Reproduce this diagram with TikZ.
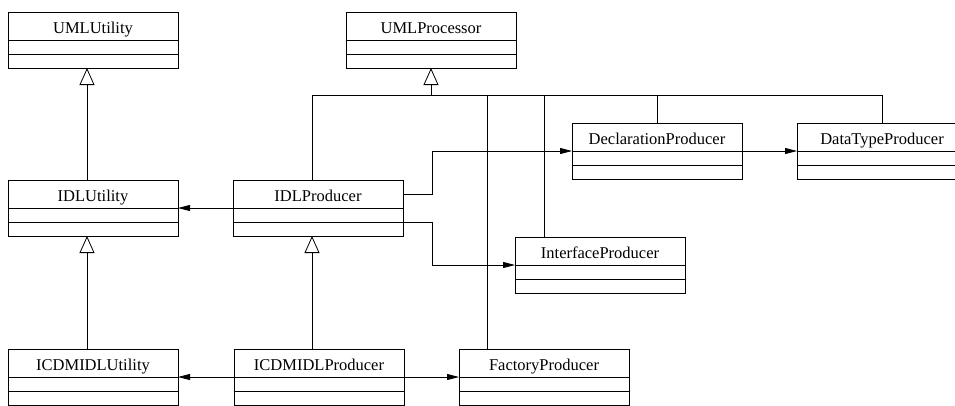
\documentclass[tikz,border=0pt]{standalone}
\usepackage{fontspec}
\setmainfont{Liberation Serif}
\usetikzlibrary{positioning,arrows.meta}

\tikzset{
  classtitle/.style={draw, line width=.8pt, outer sep=0pt, minimum width=170pt, minimum height=28pt,
    inner ysep=0pt, text height=15pt, text depth=0pt, font=\fontsize{16.5}{18}\selectfont},
  classpart/.style={draw, line width=.8pt, outer sep=0pt, minimum width=170pt, minimum height=14pt, inner sep=0pt},
  inherit/.style={line width=.8pt, -{Triangle[open, length=17pt, width=15pt]}},
  assoc/.style={line width=.8pt, -{Triangle[length=12pt, width=6pt]}},
  link/.style={line width=.8pt}
}

\begin{document}
\begin{tikzpicture}[x=1pt, y=-1pt]
\def\umlclass#1#2#3{%
  \node[classtitle, anchor=north west] (#1) at #2 {#3};
  \node[classpart, below=0pt of #1] (#1-att) {};
  \node[classpart, below=0pt of #1-att] (#1-op) {};
}

\useasboundingbox (0,0) rectangle (955,405);
\clip (0,0) rectangle (955,405);

% classes
\umlclass{umlutil}{(8,12)}{UMLUtility}
\umlclass{umlproc}{(346,12)}{UMLProcessor}
\umlclass{idlutil}{(8,180)}{IDLUtility}
\umlclass{idlprod}{(233,180)}{IDLProducer}
\umlclass{declprod}{(572,123)}{DeclarationProducer}
\umlclass{typeprod}{(797,123)}{DataTypeProducer}
\umlclass{ifaceprod}{(515,237)}{InterfaceProducer}
\umlclass{icdmutil}{(8,349)}{ICDMIDLUtility}
\umlclass{icdmprod}{(234,349)}{ICDMIDLProducer}
\umlclass{factprod}{(459,349)}{FactoryProducer}

% generalisation
\draw[inherit] ([xshift=-6pt]idlutil.north) -- ([xshift=-6pt]umlutil-op.south);
\draw[inherit] ([xshift=-6pt]icdmutil.north) -- ([xshift=-6pt]idlutil-op.south);
\draw[inherit] ([xshift=-7pt]icdmprod.north) -- ([xshift=-6pt]idlprod-op.south);

\coordinate (bus) at (431,95);
\draw[inherit] (bus) -- (umlproc-op.south);
\draw[link] ([xshift=-6pt]idlprod.north) |- (bus);
\draw[link] ([xshift=-56.5pt]factprod.north) |- (bus);
\draw[link] ([xshift=-55.5pt]ifaceprod.north) |- (bus);
\draw[link] (declprod.north) |- (bus);
\draw[link] (typeprod.north) |- (bus);

% associations
\draw[assoc] (idlprod.south west) -- (idlutil.south east);
\draw[assoc] (idlprod.east) -- ++(29,0) |- (declprod.south west);
\draw[assoc] (idlprod-att.south east) -- ++(29,0) |- (ifaceprod.south west);
\draw[assoc] (declprod.south east) -- (typeprod.south west);
\draw[assoc] (icdmprod.south west) -- (icdmutil.south east);
\draw[assoc] (icdmprod.south east) -- (factprod.south west);
\end{tikzpicture}
\end{document}
